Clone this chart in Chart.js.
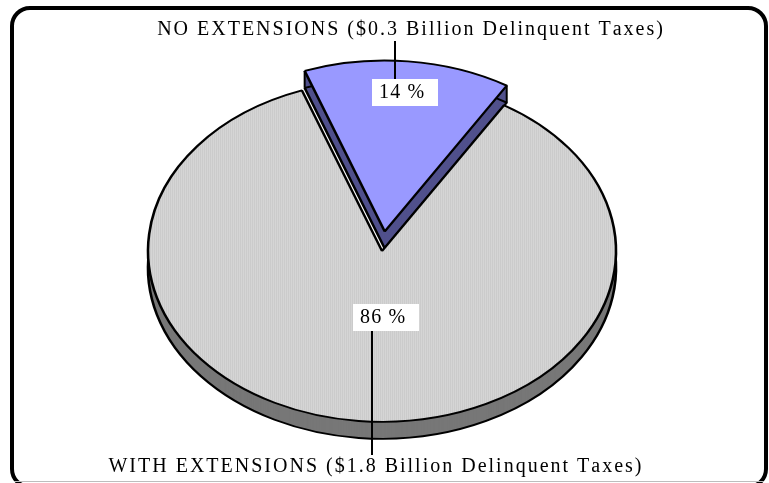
<!DOCTYPE html>
<html><head><meta charset="utf-8">
<script src="https://cdn.jsdelivr.net/npm/chart.js@4/dist/chart.umd.min.js"></script>
<style>
html,body{margin:0;padding:0;background:#fff;}
#wrap{position:relative;width:769px;height:483px;overflow:hidden;}
#c{position:absolute;left:0;top:0;}
#frame{position:absolute;left:10px;top:6px;width:758px;height:483px;box-sizing:border-box;border:4px solid #000;border-radius:20px;pointer-events:none;}
#base{position:absolute;left:14px;top:481px;width:750px;height:1px;background:#bdbdbd;}
</style></head><body>
<div id="wrap"><canvas id="c" width="769" height="483"></canvas><div id="frame"></div><div id="base"></div></div>
<script>
// ---- data ----
const categories = ['NO EXTENSIONS', 'WITH EXTENSIONS'];
const delinquentBillions = [0.3, 1.8];
const percentLabels = ['14 %', '86 %'];
const categoryLabels = [
  'NO EXTENSIONS ($0.3 Billion Delinquent Taxes)',
  'WITH EXTENSIONS ($1.8 Billion Delinquent Taxes)'
];

// ---- style ----
const TILT = 0.73, DEPTH = 17, RADIUS = 234;
const explode = [27, 0];
const sideColors = ['#50508c', '#777777'];
const FONT = '"Liberation Serif", "Times New Roman", serif';

function stripePattern() {
  const p = document.createElement('canvas');
  p.width = 2; p.height = 1;
  const g = p.getContext('2d');
  g.fillStyle = '#cbcbcb'; g.fillRect(0, 0, 1, 1);
  g.fillStyle = '#d5d5d5'; g.fillRect(1, 0, 1, 1);
  return document.getElementById('c').getContext('2d').createPattern(p, 'repeat');
}

function spacedText(ctx, text, x0, y, spacing, centered) {
  const chars = [...text];
  const ws = chars.map(ch => ctx.measureText(ch).width);
  let w = ws.reduce((s, v) => s + v, 0) + spacing * (ws.length - 1);
  let x = centered ? x0 - w / 2 : x0;
  chars.forEach((ch, i) => { ctx.fillText(ch, x, y); x += ws[i] + spacing; });
  return w;
}

const pie3d = {
  id: 'pie3d',
  beforeDatasetsDraw(chart) {
    const ctx = chart.ctx;
    const arcs = chart.getDatasetMeta(0).data;
    const drawArc = (i, dy, opts) => {
      const a = arcs[i];
      const mid = (a.startAngle + a.endAngle) / 2;
      ctx.save();
      ctx.translate(a.x, a.y + dy);
      ctx.scale(1, TILT);
      ctx.translate(-a.x, -a.y);
      ctx.translate(Math.cos(mid) * explode[i], Math.sin(mid) * explode[i]);
      const saved = a.options;
      a.options = Object.assign({}, saved, opts);
      a.draw(ctx);
      a.options = saved;
      ctx.restore();
    };
    // side walls
    for (let d = DEPTH; d >= 1; d--) {
      arcs.forEach((a, i) => drawArc(i, d, {backgroundColor: sideColors[i], borderWidth: 0}));
    }
    // bottom outline
    arcs.forEach((a, i) => drawArc(i, DEPTH, {backgroundColor: 'rgba(0,0,0,0)', borderWidth: 2.6, borderColor: '#000'}));
    // vertical edges of exploded slices
    ctx.save();
    ctx.strokeStyle = '#000'; ctx.lineWidth = 2;
    arcs.forEach((a, i) => {
      if (!explode[i]) return;
      const mid = (a.startAngle + a.endAngle) / 2;
      [a.startAngle, a.endAngle].forEach(ang => {
        const x = a.x + Math.cos(mid) * explode[i] + Math.cos(ang) * a.outerRadius;
        const y = a.y + (Math.sin(mid) * explode[i] + Math.sin(ang) * a.outerRadius) * TILT;
        ctx.beginPath(); ctx.moveTo(x, y); ctx.lineTo(x, y + DEPTH); ctx.stroke();
      });
    });
    ctx.restore();
    // top faces
    arcs.forEach((a, i) => drawArc(i, 0, {}));
    return false;
  },
  afterDraw(chart) {
    const ctx = chart.ctx;
    const arcs = chart.getDatasetMeta(0).data;
    const cx = arcs[0].x;
    ctx.save();
    ctx.fillStyle = '#000';
    ctx.textBaseline = 'alphabetic';
    ctx.font = '20px ' + FONT;
    // category labels
    spacedText(ctx, categoryLabels[0], cx + 28, 35, 2, true);
    spacedText(ctx, categoryLabels[1], cx - 7, 472, 2, true);
    // leader lines
    ctx.strokeStyle = '#000'; ctx.lineWidth = 2;
    ctx.beginPath(); ctx.moveTo(cx + 13, 41); ctx.lineTo(cx + 13, 79); ctx.stroke();
    ctx.beginPath(); ctx.moveTo(cx - 10, 331); ctx.lineTo(cx - 10, 455); ctx.stroke();
    // percent boxes
    const boxes = [[cx - 10, 79], [cx - 29, 304]];
    boxes.forEach((b, i) => {
      ctx.fillStyle = '#fff';
      ctx.fillRect(b[0], b[1], 66, 27);
      ctx.fillStyle = '#000';
      spacedText(ctx, percentLabels[i], b[0] + 7, b[1] + 19, 1.2, false);
    });
    ctx.restore();
  }
};

new Chart(document.getElementById('c'), {
  type: 'pie',
  data: {
    labels: categories,
    datasets: [{
      data: delinquentBillions,
      backgroundColor: ['#9999ff', stripePattern()],
      borderColor: '#000',
      borderWidth: 2.6,
      clip: false
    }]
  },
  options: {
    responsive: false,
    animation: false,
    events: [],
    rotation: -20,
    radius: RADIUS,
    layout: {padding: {left: 0, right: 5, top: 19, bottom: 0}},
    plugins: {legend: {display: false}, tooltip: {enabled: false}}
  },
  plugins: [pie3d]
});
</script>
</body></html>
